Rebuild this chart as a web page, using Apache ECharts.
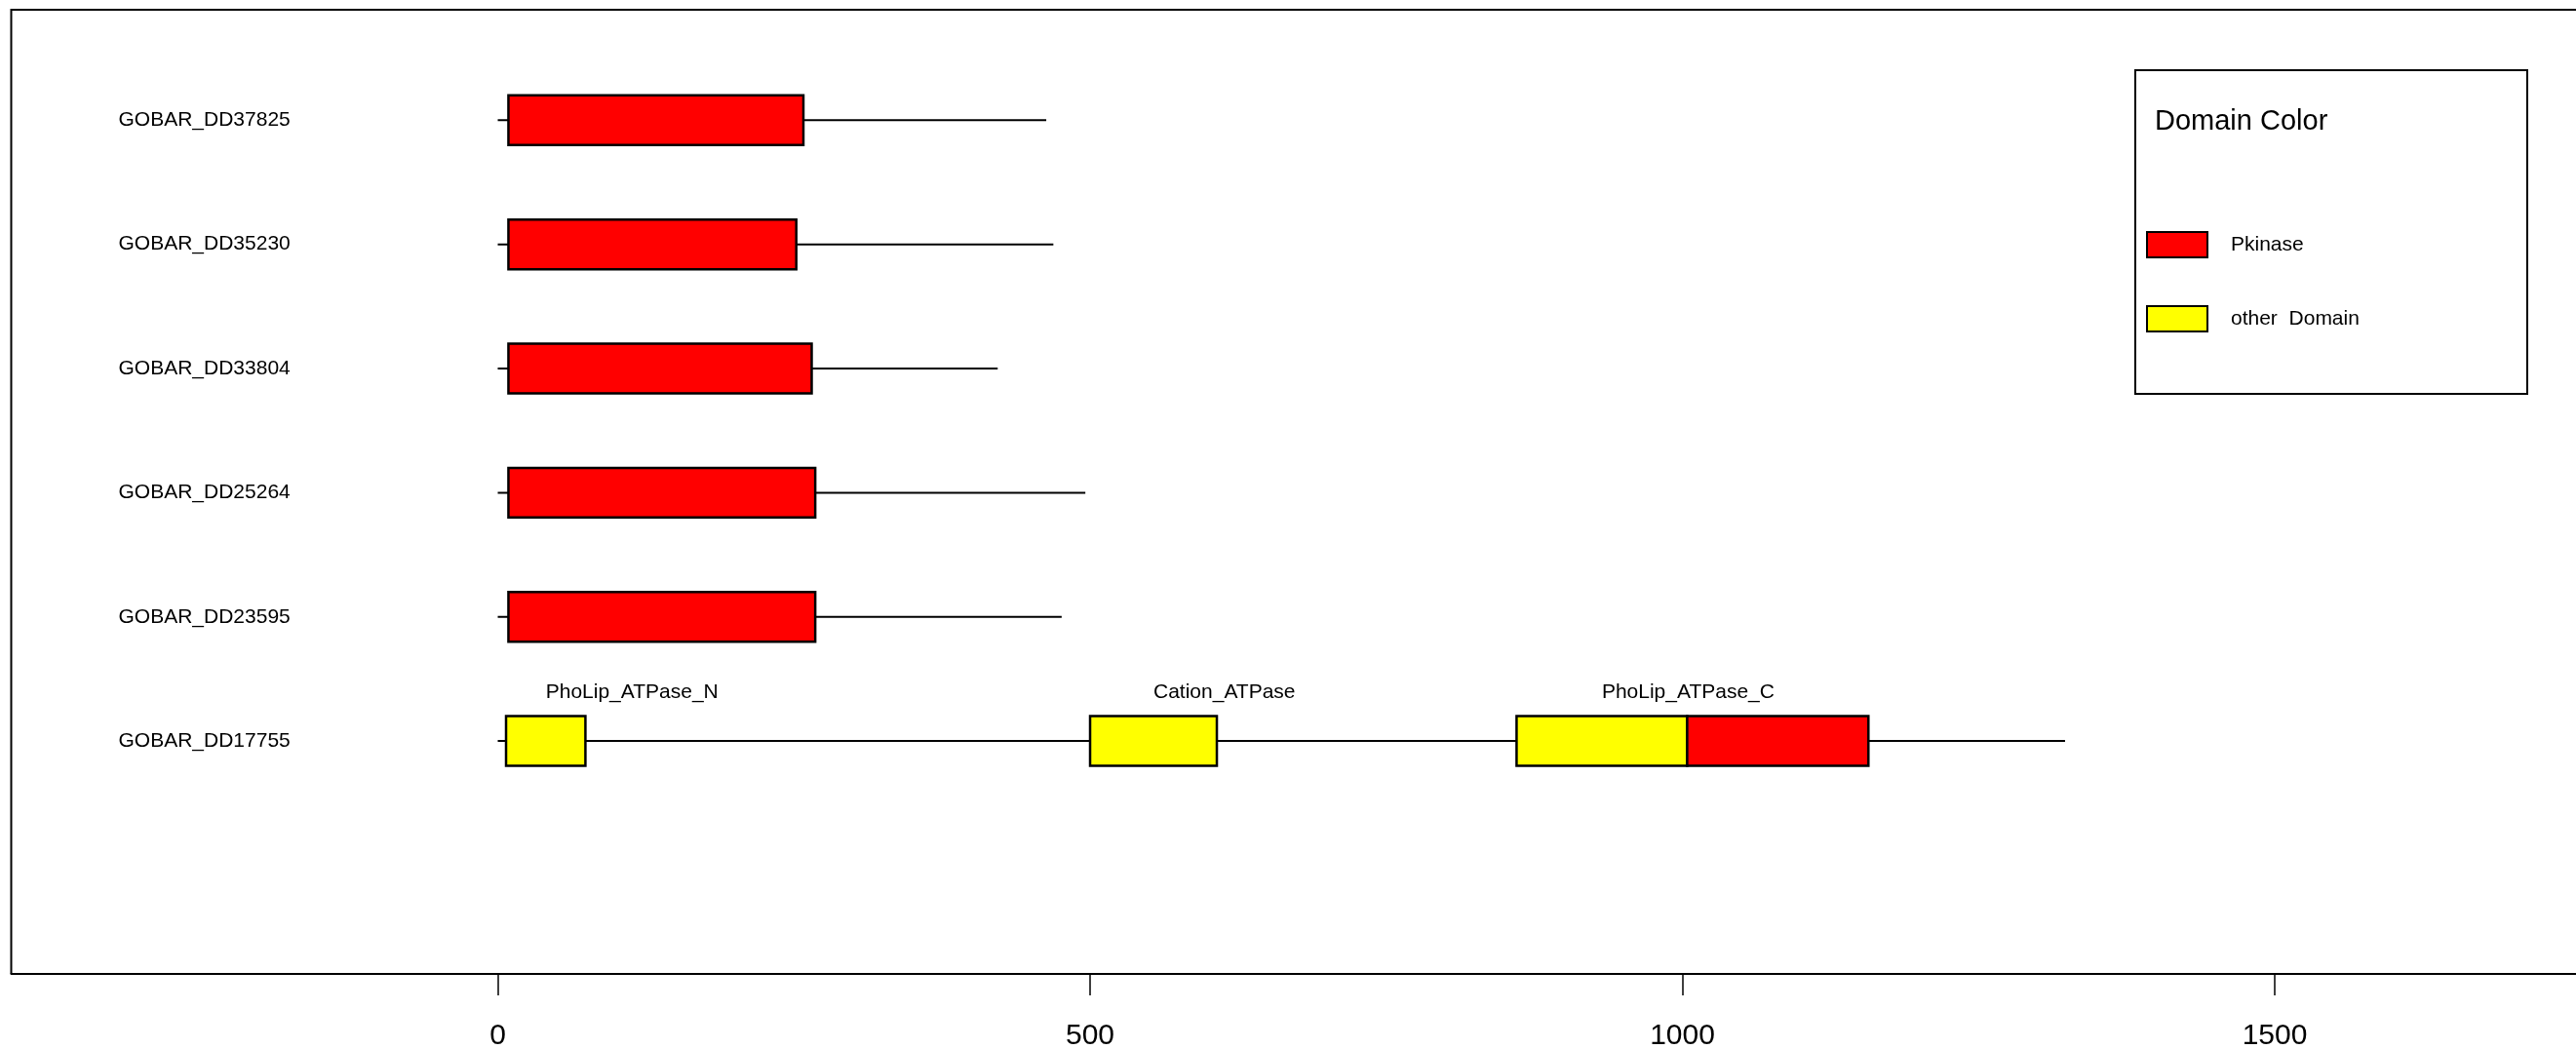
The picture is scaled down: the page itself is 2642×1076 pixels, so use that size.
<!DOCTYPE html>
<html>
<head>
<meta charset="utf-8">
<script src="https://cdn.jsdelivr.net/npm/echarts@6/dist/echarts.min.js"></script>
<style>
html,body{margin:0;padding:0;background:#fff;}
#chart{width:2642px;height:1076px;}
</style>
</head>
<body>
<div id="chart"></div>
<script>
// ---- data (top row first) ----
const proteins = ['GOBAR_DD37825','GOBAR_DD35230','GOBAR_DD33804','GOBAR_DD25264','GOBAR_DD23595','GOBAR_DD17755'];
const proteinLengths = [463, 469, 422, 496, 476, 1323];

const domainProtein = ['GOBAR_DD37825','GOBAR_DD35230','GOBAR_DD33804','GOBAR_DD25264','GOBAR_DD23595','GOBAR_DD17755','GOBAR_DD17755','GOBAR_DD17755','GOBAR_DD17755'];
const domainStart  = [9, 9, 9, 9, 9, 7, 500, 860, 1004];
const domainEnd    = [258, 252, 265, 268, 268, 74, 607, 1004, 1157];
const domainType   = ['Pkinase','Pkinase','Pkinase','Pkinase','Pkinase','other','other','other','Pkinase'];
const domainLabel  = ['','','','','','PhoLip_ATPase_N','Cation_ATPase','PhoLip_ATPase_C',''];

const xTicks = [0, 500, 1000, 1500];
const legendNames = ['Pkinase', 'other  Domain'];
const typeColors = { Pkinase: '#ff0000', other: '#ffff00' };

// ---- build ----
const nRows = proteins.length;
const rowY = name => nRows - proteins.indexOf(name);

const backboneData = proteins.map((p, i) => [0, proteinLengths[i], nRows - i]);
const domainData = domainProtein.map((p, i) => [domainStart[i], domainEnd[i], rowY(p), domainType[i], domainLabel[i]]);

const FONT = '"Liberation Sans", Arial, sans-serif';

const chart = echarts.init(document.getElementById('chart'), null, {renderer: 'canvas'});
chart.setOption({
  animation: false,
  backgroundColor: '#ffffff',
  grid: {
    left: 11.5, top: 10, width: 2640, height: 989,
    outerBoundsMode: 'none', containLabel: false,
    show: false
  },
  xAxis: {
    type: 'value', min: -410.7, max: 1762.1,
    axisLine: { show: true, onZero: false, lineStyle: { color: '#000', width: 2 } },
    axisTick: { show: true, length: 22, customValues: xTicks, lineStyle: { color: '#000', width: 1.5 } },
    axisLabel: { customValues: xTicks, formatter: v => String(v), fontSize: 30, color: '#000', fontFamily: FONT, margin: 49 },
    splitLine: { show: false }
  },
  yAxis: {
    type: 'value', min: -0.876, max: 6.89,
    axisLine: { show: false },
    axisTick: { show: false },
    splitLine: { show: false },
    axisLabel: {
      inside: true, margin: 110,
      customValues: proteins.map((p, i) => nRows - i),
      formatter: v => proteins[nRows - Math.round(v)] || '',
      fontSize: 21, color: '#000', fontFamily: FONT
    }
  },
  series: [
    {
      type: 'custom',
      data: backboneData,
      z: 2,
      renderItem: (params, api) => {
        const a = api.coord([api.value(0), api.value(2)]);
        const b = api.coord([api.value(1), api.value(2)]);
        return { type: 'line', shape: { x1: a[0], y1: a[1], x2: b[0], y2: b[1] },
                 style: { stroke: '#000', lineWidth: 2 } };
      }
    },
    {
      type: 'custom',
      data: domainData,
      z: 3,
      renderItem: (params, api) => {
        const d = domainData[params.dataIndex];
        const tl = api.coord([d[0], d[2] + 0.2]);
        const br = api.coord([d[1], d[2] - 0.2]);
        const children = [{
          type: 'rect',
          shape: { x: tl[0], y: tl[1], width: br[0] - tl[0], height: br[1] - tl[1] },
          style: { fill: typeColors[d[3]], stroke: '#000', lineWidth: 2.5 }
        }];
        if (d[4]) {
          const mid = api.coord([(d[0] + d[1]) / 2, d[2]]);
          children.push({
            type: 'text',
            style: { text: d[4], x: mid[0], y: mid[1] - 50, align: 'left', verticalAlign: 'middle',
                     fontSize: 21, fontFamily: FONT, fill: '#000' }
          });
        }
        return { type: 'group', children };
      }
    }
  ],
  graphic: [
    { type: 'polyline', shape: { points: [[11.5, 999], [11.5, 10], [2650, 10]] },
      style: { fill: 'none', stroke: '#000', lineWidth: 2 }, z: 10 },
    { type: 'rect', shape: { x: 2190, y: 72, width: 402, height: 332 },
      style: { fill: 'none', stroke: '#000', lineWidth: 2 }, z: 10 },
    { type: 'text', style: { text: 'Domain Color', x: 2210, y: 125, verticalAlign: 'middle',
      fontSize: 29, fontFamily: FONT, fill: '#000' }, z: 10 },
    { type: 'rect', shape: { x: 2202, y: 238, width: 62, height: 26 },
      style: { fill: typeColors.Pkinase, stroke: '#000', lineWidth: 2 }, z: 10 },
    { type: 'text', style: { text: legendNames[0], x: 2288, y: 251, verticalAlign: 'middle',
      fontSize: 21, fontFamily: FONT, fill: '#000' }, z: 10 },
    { type: 'rect', shape: { x: 2202, y: 314, width: 62, height: 26 },
      style: { fill: typeColors.other, stroke: '#000', lineWidth: 2 }, z: 10 },
    { type: 'text', style: { text: legendNames[1], x: 2288, y: 327, verticalAlign: 'middle',
      fontSize: 21, fontFamily: FONT, fill: '#000' }, z: 10 }
  ]
});
</script>
</body>
</html>
